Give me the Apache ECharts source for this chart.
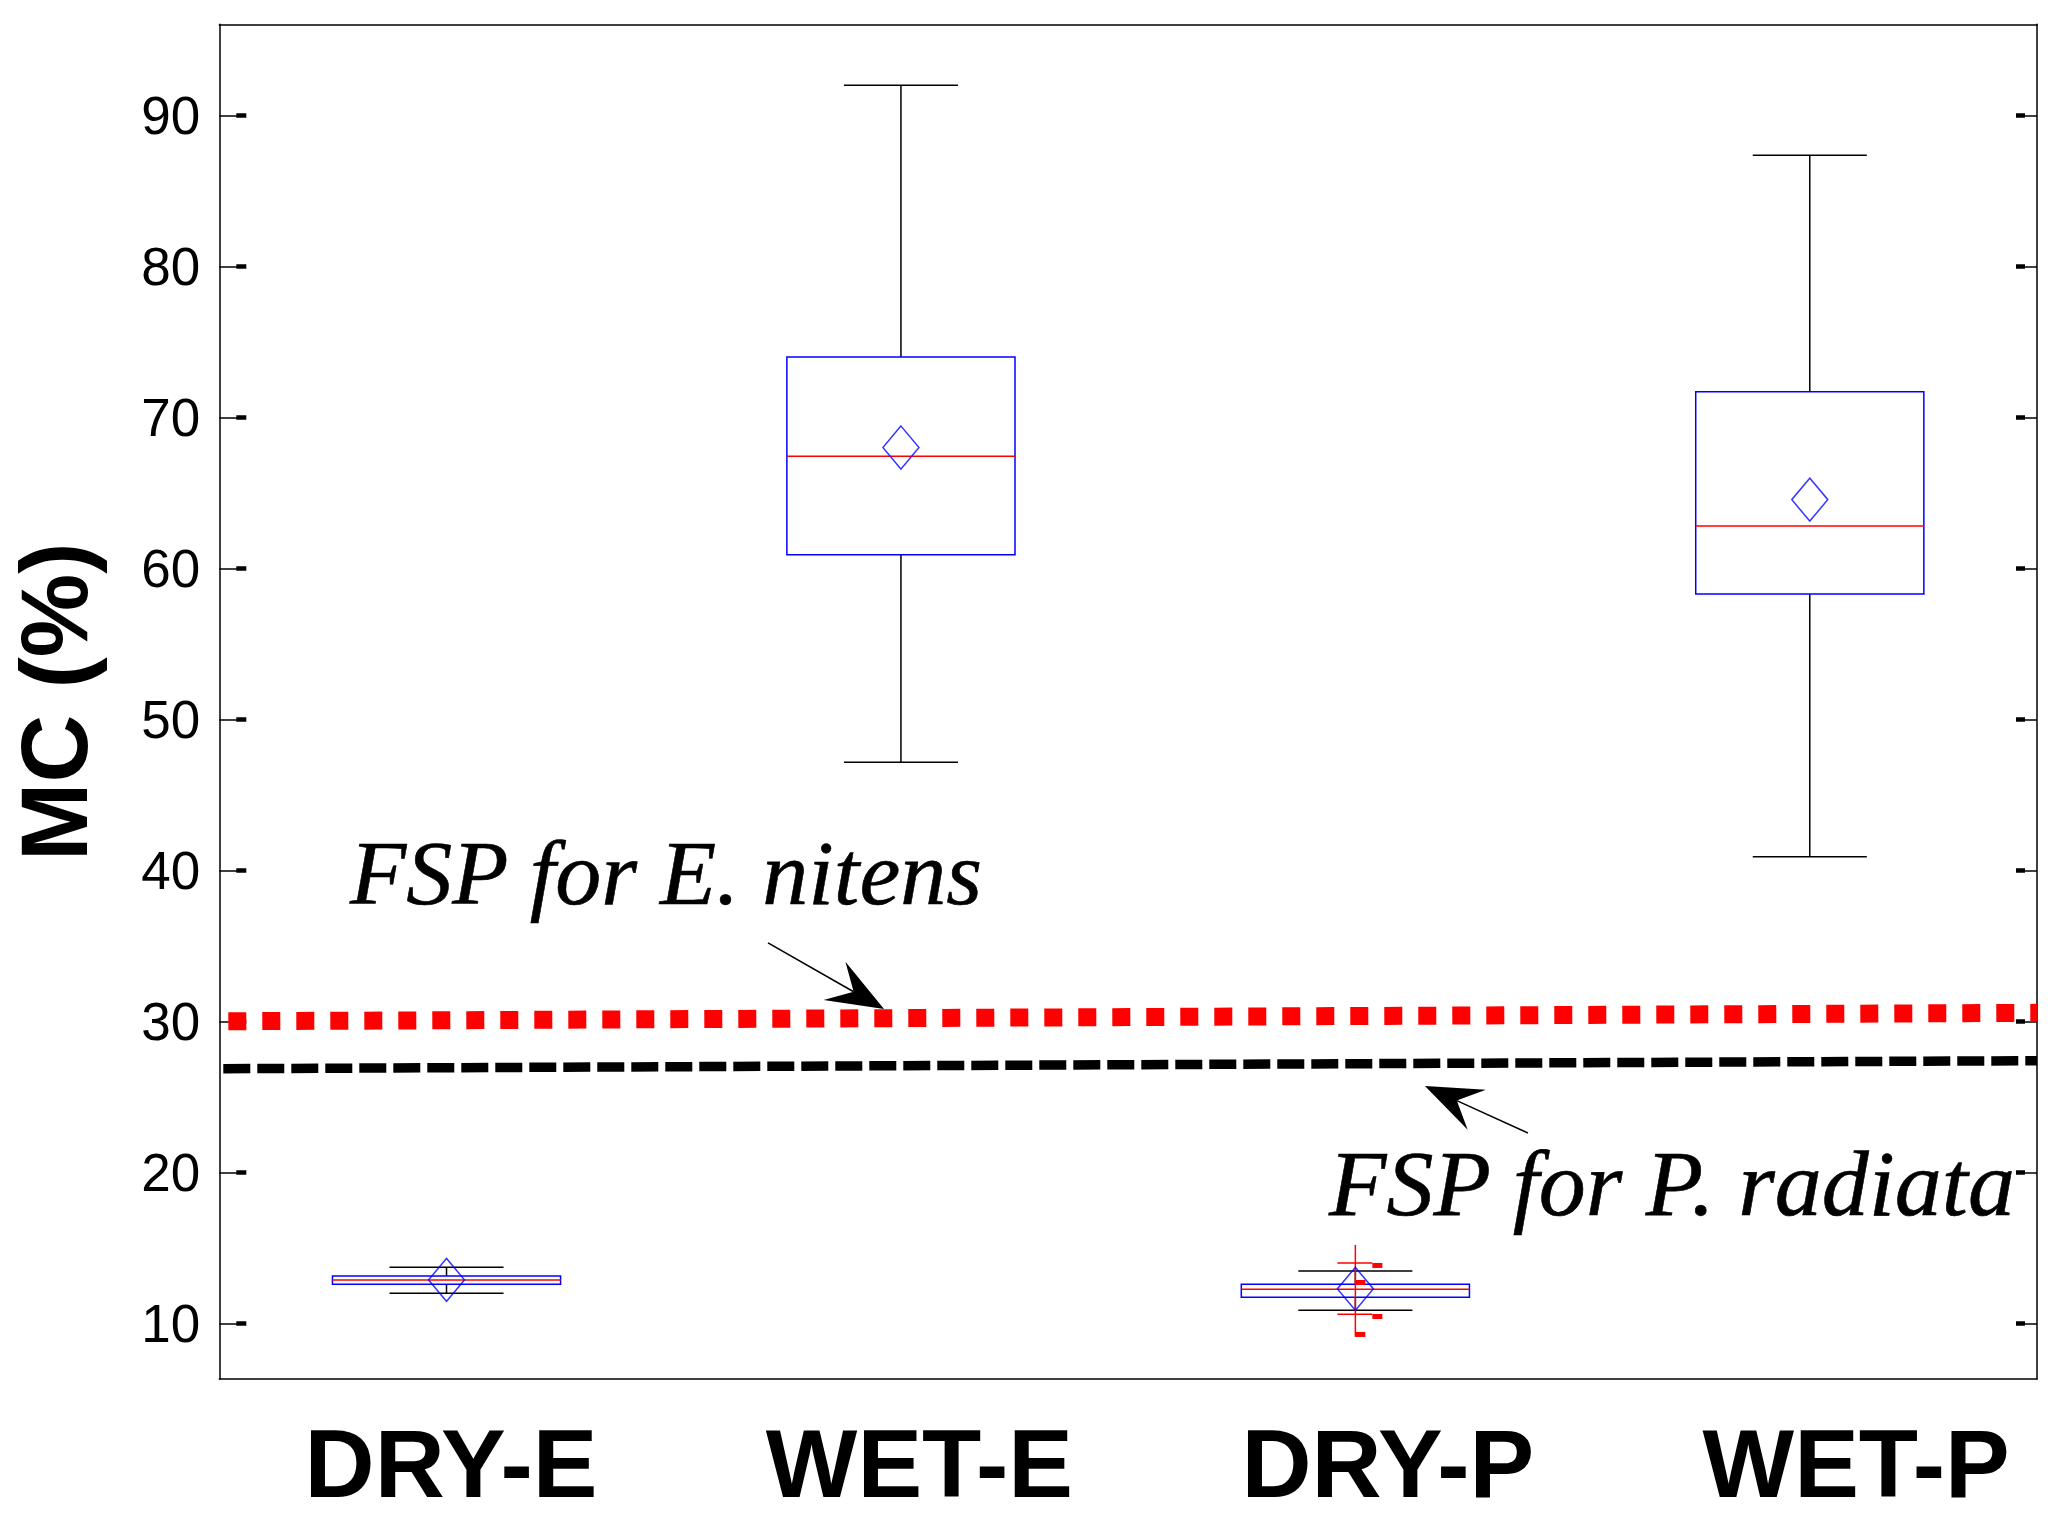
<!DOCTYPE html>
<html><head><meta charset="utf-8">
<script src="https://cdn.jsdelivr.net/npm/echarts@6/dist/echarts.min.js"></script>
<style>html,body{margin:0;padding:0;background:#fff}#c{width:2061px;height:1525px}</style>
</head><body><div id="c"></div>
<script>
// ---- data ----
const categories = ['DRY-E', 'WET-E', 'DRY-P', 'WET-P'];
const whiskerMin = [11.99, 47.15, 10.86, 40.9];
const q1 = [12.58, 60.9, 11.72, 58.3];
const median = [12.87, 67.43, 12.25, 62.8];
const q3 = [13.13, 74.0, 12.58, 71.7];
const whiskerMax = [13.71, 92.0, 13.46, 87.36];
const means = [12.87, 68.0, 12.28, 64.55];
const yTicks = [10, 20, 30, 40, 50, 60, 70, 80, 90];
const yMin = 6.31, yMax = 96.03;
// DRY-P red outlier marks
const dryPOutlierSpan = [9.11, 15.19];
const dryPOutlierCaps = [13.99, 10.6];
const dryPOutlierDots = [13.83, 12.70, 10.45, 9.26];
// FSP reference lines (x in category units 0..4)
const fspENitens = [[0, 30.0], [4, 30.56]];
const fspPRadiata = [[0, 26.86], [4, 27.39]];
const annotationText = ['FSP for E. nitens', 'FSP for P. radiata'];
const annotationAnchor = [[0.2876, 39.79], [2.4420, 19.32]];
const arrowTail = [[1.2075, 35.19], [2.8798, 22.60]];
const arrowTip = [[1.4628, 30.81], [2.6531, 25.71]];

// ---- chart ----
const chart = echarts.init(document.getElementById('c'), null, {renderer: 'svg'});
const BLUE = '#0000ff', RED = '#ff0000', BLACK = '#000000';
const sans = 'Liberation Sans, Arial, sans-serif';
const serif = '"Liberation Serif", "Times New Roman", serif';
const annotationFontSize = [92, 94];

function renderBox(params, api) {
  const i = api.value(0);
  const bw = api.size([1, 0])[0] * 0.502;
  const cw = bw * 0.5;
  const x = api.coord([i, api.value(3)])[0];
  const y = v => api.coord([i, v])[1];
  const yMn = y(api.value(1)), yQ1 = y(api.value(2)), yMd = y(api.value(3)), yQ3 = y(api.value(4)), yMx = y(api.value(5));
  const blk = {stroke: BLACK, lineWidth: 1.5, fill: null};
  return {type: 'group', children: [
    {type: 'line', shape: {x1: x, y1: yQ3, x2: x, y2: yMx}, style: blk},
    {type: 'line', shape: {x1: x, y1: yQ1, x2: x, y2: yMn}, style: blk},
    {type: 'line', shape: {x1: x - cw / 2, y1: yMx, x2: x + cw / 2, y2: yMx}, style: blk},
    {type: 'line', shape: {x1: x - cw / 2, y1: yMn, x2: x + cw / 2, y2: yMn}, style: blk},
    {type: 'rect', shape: {x: x - bw / 2, y: yQ3, width: bw, height: yQ1 - yQ3}, style: {stroke: BLUE, lineWidth: 1.5, fill: 'none'}},
    {type: 'line', shape: {x1: x - bw / 2, y1: yMd, x2: x + bw / 2, y2: yMd}, style: {stroke: RED, lineWidth: 1.5}}
  ]};
}

function renderOutliers(params, api) {
  const i = api.value(0);
  const x = api.coord([i, 0])[0];
  const y = v => api.coord([i, v])[1];
  const st = {stroke: RED, lineWidth: 1.5};
  const children = [
    {type: 'line', shape: {x1: x, y1: y(api.value(1)), x2: x, y2: y(api.value(2))}, style: st},
    {type: 'line', shape: {x1: x - 18, y1: y(api.value(3)), x2: x + 17, y2: y(api.value(3))}, style: st},
    {type: 'line', shape: {x1: x - 18, y1: y(api.value(4)), x2: x + 17, y2: y(api.value(4))}, style: st}
  ];
  const offs = [17, 0, 17, 0];
  for (let k = 0; k < 4; k++) {
    children.push({type: 'rect', shape: {x: x + offs[k], y: y(api.value(5 + k)) - 2.5, width: 10, height: 5}, style: {fill: RED}});
  }
  return {type: 'group', children};
}

function renderArrow(params, api) {
  const a = api.coord([api.value(0), api.value(1)]);
  const b = api.coord([api.value(2), api.value(3)]);
  const dx = b[0] - a[0], dy = b[1] - a[1];
  const len = Math.hypot(dx, dy);
  const ux = dx / len, uy = dy / len, nx = -uy, ny = ux;
  const L = 57, W = 22, N = 35;
  const base = [b[0] - ux * L, b[1] - uy * L];
  const notch = [b[0] - ux * N, b[1] - uy * N];
  return {type: 'group', children: [
    {type: 'line', shape: {x1: a[0], y1: a[1], x2: notch[0], y2: notch[1]}, style: {stroke: BLACK, lineWidth: 1.5}},
    {type: 'polygon', shape: {points: [b, [base[0] + nx * W, base[1] + ny * W], notch, [base[0] - nx * W, base[1] - ny * W]]}, style: {fill: BLACK}}
  ]};
}

function renderAnnotation(params, api) {
  const p = api.coord([api.value(0), api.value(1)]);
  const k = params.dataIndex;
  return {type: 'text', x: p[0], y: p[1], style: {
    text: annotationText[k], fill: BLACK, opacity: 1,
    stroke: BLACK, lineWidth: 0.6,
    font: 'italic normal ' + annotationFontSize[k] + 'px ' + serif,
    fontStyle: 'italic', fontSize: annotationFontSize[k], fontFamily: serif,
    align: 'left', verticalAlign: 'middle'
  }};
}

const yCommon = {type: 'value', min: yMin, max: yMax, gridIndex: 0, splitLine: {show: false}};

const option = {
  animation: false,
  backgroundColor: '#ffffff',
  grid: [
    {left: 219.3, right: 24, top: 24.3, bottom: 146, outerBoundsMode: 'none', containLabel: false},
    {left: 216.8, width: 1873.6, top: 24.3, bottom: 146, outerBoundsMode: 'none', containLabel: false}
  ],
  xAxis: [
    {type: 'category', gridIndex: 0, data: categories, boundaryGap: true, position: 'bottom',
      axisLine: {show: true, onZero: false, lineStyle: {color: BLACK, width: 1.5}},
      axisTick: {show: false}, axisLabel: {show: false}, splitLine: {show: false}},
    {type: 'value', gridIndex: 0, min: 0, max: 4, position: 'top',
      axisLine: {show: true, onZero: false, lineStyle: {color: BLACK, width: 1.5}},
      axisTick: {show: false}, axisLabel: {show: false}, splitLine: {show: false}},
    {type: 'category', gridIndex: 1, data: categories, boundaryGap: true, position: 'bottom',
      axisLine: {show: false}, axisTick: {show: false}, splitLine: {show: false},
      axisLabel: {show: true, interval: 0, margin: 36, color: BLACK, fontSize: 97, fontWeight: 'bold', fontFamily: sans}}
  ],
  yAxis: [
    Object.assign({}, yCommon, {
      position: 'left',
      axisLine: {show: true, lineStyle: {color: BLACK, width: 1.5}},
      axisTick: {show: true, inside: true, length: 26, customValues: yTicks, lineStyle: {color: BLACK, width: 1.5}},
      axisLabel: {show: true, customValues: yTicks, margin: 19, color: BLACK, fontSize: 53, fontFamily: sans, padding: [10, 0, 0, 0]},
      name: 'MC (%)', nameLocation: 'middle', nameGap: 118,
      nameTextStyle: {color: BLACK, fontSize: 94, fontWeight: 'bold', fontFamily: sans}
    }),
    Object.assign({}, yCommon, {
      position: 'left', offset: -17,
      axisLine: {show: false},
      axisTick: {show: true, inside: true, length: 10, customValues: yTicks, lineStyle: {color: BLACK, width: 4.5}},
      axisLabel: {show: false}
    }),
    Object.assign({}, yCommon, {
      position: 'right',
      axisLine: {show: true, lineStyle: {color: BLACK, width: 1.5}},
      axisTick: {show: true, inside: true, length: 21, customValues: yTicks, lineStyle: {color: BLACK, width: 1.5}},
      axisLabel: {show: false}
    }),
    Object.assign({}, yCommon, {
      position: 'right', offset: -12,
      axisLine: {show: false},
      axisTick: {show: true, inside: true, length: 9, customValues: yTicks, lineStyle: {color: BLACK, width: 4.5}},
      axisLabel: {show: false}
    }),
    {type: 'value', gridIndex: 1, min: yMin, max: yMax, show: false}
  ],
  series: [
    {type: 'line', xAxisIndex: 1, yAxisIndex: 0, data: fspENitens, symbol: 'none', silent: true, z: 2,
      lineStyle: {color: RED, width: 18, type: [18, 16], dashOffset: 25, cap: 'butt'}},
    {type: 'line', xAxisIndex: 1, yAxisIndex: 0, data: fspPRadiata, symbol: 'none', silent: true, z: 2,
      lineStyle: {color: BLACK, width: 9.5, type: [27, 7], dashOffset: 30, cap: 'butt'}},
    {type: 'custom', xAxisIndex: 0, yAxisIndex: 0, silent: true, z: 3,
      renderItem: renderBox, encode: {x: 0, y: [1, 2, 3, 4, 5]},
      data: categories.map((c, i) => [i, whiskerMin[i], q1[i], median[i], q3[i], whiskerMax[i]])},
    {type: 'custom', xAxisIndex: 0, yAxisIndex: 0, silent: true, z: 4,
      renderItem: renderOutliers, encode: {x: 0, y: [1, 2]},
      data: [[2, dryPOutlierSpan[0], dryPOutlierSpan[1], dryPOutlierCaps[0], dryPOutlierCaps[1]].concat(dryPOutlierDots)]},
    {type: 'scatter', xAxisIndex: 0, yAxisIndex: 0, silent: true, z: 5,
      data: means.map((m, i) => [i, m]), symbol: 'diamond', symbolSize: [36, 43],
      itemStyle: {color: 'rgba(0,0,0,0)', borderColor: BLUE, borderWidth: 1.5}, emphasis: {disabled: true}},
    {type: 'custom', xAxisIndex: 1, yAxisIndex: 0, silent: true, z: 6,
      renderItem: renderAnnotation, encode: {x: 0, y: 1},
      data: annotationAnchor.map(a => [a[0], a[1]])},
    {type: 'custom', xAxisIndex: 1, yAxisIndex: 0, silent: true, z: 6,
      renderItem: renderArrow, encode: {x: [0, 2], y: [1, 3]},
      data: arrowTail.map((t, i) => [t[0], t[1], arrowTip[i][0], arrowTip[i][1]])}
  ]
};
chart.setOption(option);
</script>
</body></html>
